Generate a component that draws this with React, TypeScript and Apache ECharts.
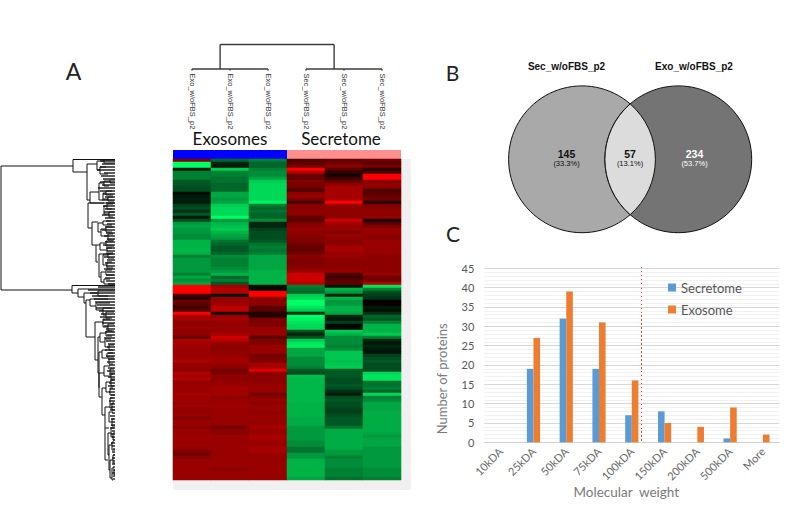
import React, { useEffect, useRef } from "react";
import * as echarts from "echarts";

const heatColumns = ["Exo_w/oFBS_p2", "Exo_w/oFBS_p2", "Exo_w/oFBS_p2", "Sec_w/oFBS_p2", "Sec_w/oFBS_p2", "Sec_w/oFBS_p2"];

const exo1 = [
  5, -10, -10, -1, -5, -5, -5, -3.5, -3.5, -3,
  -3, -0.5, -1, -1.2, -1, -2.5, -3, -2, -3.5, -1,
  -3, -6, -6.5, -6, -6, -5.5, -5.5, -7, -7, -7,
  -7.2, -7, -5, -6, -6, -6, -6, -6, -5, -6.5,
  -5.5, -6.5, 10, 10, 10, 3, 1.5, 4.5, 3.5, 2.5,
  3, 10, 6.5, 6.5, 5.5, 5.8, 6, 5.5, 5.8, 4,
  6.8, 6.3, 6.3, 6, 6.2, 6, 6.4, 6.8, 5.8, 5.8,
  5.5, 7, 6.3, 7, 5.8, 5.8, 6.2, 5.8, 6.5, 6.2,
  6.2, 5.8, 6.2, 5.8, 5.8, 6, 5, 6, 6, 5.5,
  6, 6, 6.2, 6.2, 6, 6, 6, 5, 4.5, 5.5,
  6, 6, 6, 6, 6, 6, 6,
];
const exo2 = [
  -4, -1.5, -0.8, -8, -5, -5, -4.5, -4.5, -4, -4,
  -4, -6.5, -6.5, -6, -6.5, -8, -8.5, -8.5, -8.5, -10,
  -6, -7, -7.5, -8, -7, -6.5, -6, -4.5, -4, -3.5,
  -3.5, -4, -5.5, -5, -5, -5, -5.5, -6, -7, -4,
  -5, -3.5, 6.5, 7, 7, -1, 6, 6, 6.2, 7.5,
  7.5, 1, 6, 6.5, 5.8, 5.8, 6, 5.8, 6.5, 8,
  7.2, 5.8, 5.5, 5.5, 5.8, 5.8, 6.2, 6.4, 6, 5.5,
  4.5, 5, 5.8, 5.5, 5.8, 6, 6.5, 6.2, 6.4, 5.5,
  6, 6.2, 6.2, 6, 6, 6, 6, 6, 6, 4.5,
  5.5, 5.5, 6, 6, 6, 6, 6, 6, 6, 6,
  6, 6, 6, 5.5, 6, 6, 6,
];
const exo3 = [
  -5, -4, -4, -5, -5.5, -5.5, -6.5, -8, -8.5, -8.5,
  -8.5, -8.5, -8.5, -8.5, -9.5, -5, -4, -4.5, -4, -4,
  -5.5, -1.5, -1.5, -2.5, -3, -3, -3, -3.5, -4.5, -5,
  -4.5, -5, -6.5, -6.5, -6.5, -6.5, -6.5, -7, -7, -7,
  -7, -7, -0.5, -0.5, 10, 10, 5.5, 5.5, 5.5, 3.5,
  3.5, 1.5, 1.5, 5, 5, 5, 6, 6, 6, 3.5,
  5, 5, 6, 6, 6, 4.5, 5, 5, 6.5, 6.5,
  9, 5.5, 5.5, 5.5, 5.5, 6, 6, 6, 4.5, 5.5,
  6, 5.5, 6, 6, 5.5, 6, 6, 6, 6, 6.5,
  6, 6, 6.5, 6.5, 6, 6, 6.5, 6.5, 6, 6,
  6, 6, 6, 6, 6, 6, 6,
];
const sec1 = [
  3, 4, 4.5, 10, 7, 4, 4, 5, 5, 4.5,
  3, 5.5, 6, 5, 2.5, 5.5, 5.5, 5.5, 5.5, 4,
  3.5, 5, 5.5, 6, 5.5, 5.5, 5, 5, 4.5, 4,
  4, 4.5, 5.5, 5, 5, 5, 5.5, 6, 8, 8,
  8, 7.5, -5, -4.5, -4, -8, -8.5, -10, -10, -9,
  -8, -2, -10, -9.5, -9, -8.5, -8.5, -3, -1.5, -3,
  -8, -9, -9.5, -6.5, -6.5, -6.5, -5.5, -5.5, -5.5, -5,
  -3.5, -3, -7.5, -7.2, -7.2, -7.2, -7.2, -7.2, -7.2, -7.2,
  -7.2, -7, -7, -7, -7, -7, -6.8, -6.8, -6.8, -6,
  -6, -6, -6, -6, -5.5, -5.5, -4.5, -4.5, -6, -6,
  -7, -7, -7, -7, -7, -7, -6.5,
];
const sec2 = [
  4, 4.5, 5.5, 3.5, 2, 0.8, 2.5, 4, 5.5, 6.5,
  6.5, 6.5, 6.5, 6.5, 10, 6, 5.5, 5.5, 5.5, 5.5,
  8, 6.5, 6, 6, 5, 6, 5.5, 5.5, 5.5, 6.5,
  6.5, 6, 6, 5.5, 5.5, 5.5, 5.5, 6, 3, 2.5,
  3.5, 4, -1, -7, -6, -1.5, -7, -6, -6, -7,
  -7, -6.5, -1.5, -1, -2.5, -0.3, -0.3, -8, -7, -5.5,
  -5.5, -5.5, -5, -5.5, -7.8, -7.8, -7.8, -7.5, -7.8, -8,
  -3.5, -3.5, -3.5, -3, -3, -3.5, -3, -2, -1, -3,
  -3.5, -3, -3, -2.5, -2.5, -3, -3.5, -3.5, -3.5, -4.5,
  -6.8, -6.8, -6.8, -6.8, -6.8, -6.8, -6.8, -6, -6, -5,
  -5.5, -5.5, -5.5, -5, -5, -5, -4.5,
];
const sec3 = [
  4.5, 3.5, 5, 1.5, 3, 10, 10, 5, 6, 5.5,
  3, 3.5, 4, 4.5, 1.5, 5, 5.5, 5.5, 5.5, 6,
  1, 3.5, 5, 6, 6, 5.5, 5.5, 6, 6, 6,
  6, 6, 5.5, 5.5, 5.5, 5.5, 5.5, 5.5, 6, 4.5,
  4.5, 7, -9, -5, -3, -2.5, -2, 0, 0.3, -1,
  -0.5, -2, -4, -3.5, -5, -7, -7, -7, -8, -5,
  -1.5, -1, -1.5, -1, -0.8, -2.5, -3, -3.5, -3, -3,
  -3, -8.5, -9, -9, -4.5, -4.5, -5, -4, -8.5, -5,
  -5.5, -6.5, -6.5, -6.5, -6.8, -6.8, -6.8, -6.8, -6.8, -6.8,
  -6.8, -6.5, -6, -6.5, -6.5, -6.5, -6, -6, -6, -6,
  -6, -6, -6, -5.5, -5.5, -5.5, -5,
];
const heatValues = [exo1, exo2, exo3, sec1, sec2, sec3];

const columnTree = [
  [0, 0, 2, 0],
  [3, 0, 5, 0],
  [0.74, 0, 0.74, 1],
  [3.74, 0, 3.74, 1],
  [0.74, 1, 3.74, 1],
  [0, 0, 0, -0.06],
  [1, 0, 1, -0.06],
  [2, 0, 2, -0.06],
  [3, 0, 3, -0.06],
  [4, 0, 4, -0.06],
  [5, 0, 5, -0.06],
];

// row dendrogram: [height, top row, bottom row, top child height, bottom child height]
const rowBrackets = [
  [1, 166, 290, 73, 72],
  [73, 159.5, 172, 115, 87],
  [87, 164, 200, 97, 90],
  [97, 161, 170, 104, 100],
  [104, 160, 163, 115, 115],
  [100, 167, 174, 106, 108],
  [90, 192, 203, 99, 115],
  [99, 183, 200, 104, 103],
  [104, 181, 186, 110, 109],
  [110, 180, 183, 115, 115],
  [103, 193, 199, 106, 108],
  [106, 191, 195, 112, 113],
  [108, 197, 201, 113, 114],
  [88, 203, 228, 104, 92],
  [104, 206, 214, 107, 109],
  [107, 204, 209, 113, 112],
  [109, 212, 217, 114, 113],
  [92, 222, 245, 98, 96],
  [98, 223, 232, 103, 101],
  [103, 221, 225, 111, 112],
  [101, 229, 236, 106, 108],
  [106, 227, 232, 113, 112],
  [108, 234, 240, 113, 114],
  [96, 245, 262, 100, 98],
  [100, 243, 250, 106, 107],
  [106, 241, 246, 113, 114],
  [107, 248, 254, 112, 113],
  [99, 254, 277, 103, 101],
  [103, 255, 265, 108, 107],
  [108, 253, 258, 113, 114],
  [107, 262, 268, 112, 113],
  [101, 272, 282, 106, 104],
  [106, 270, 275, 112, 114],
  [104, 279, 284, 110, 115],
  [72, 285.5, 293, 115, 78],
  [78, 289, 297, 115, 84],
  [84, 293, 303, 98, 86],
  [98, 291, 296, 115, 108],
  [86, 300, 337, 90, 95],
  [90, 299, 306, 108, 96],
  [96, 303, 310, 110, 103],
  [103, 308, 315, 112, 106],
  [106, 312, 318, 114, 112],
  [95, 322, 360, 103, 98],
  [103, 319, 327, 110, 108],
  [108, 324, 331, 114, 112],
  [98, 337, 373, 100, 99],
  [100, 333, 342, 106, 105],
  [106, 331, 336, 114, 112],
  [105, 339, 347, 111, 109],
  [109, 345, 350, 114, 113],
  [99, 352, 388, 102, 99],
  [102, 350, 358, 107, 109],
  [107, 353, 357, 113, 114],
  [109, 359, 364, 114, 113],
  [99, 373, 397, 104, 102],
  [104, 366, 376, 110, 111],
  [110, 369, 373, 114, 115],
  [111, 374, 379, 113, 115],
  [102, 388, 415, 106, 105],
  [106, 382, 392, 111, 110],
  [111, 380, 386, 114, 114],
  [110, 388, 395, 113, 115],
  [105, 407, 428, 110, 105],
  [110, 398, 408, 113, 112],
  [112, 403, 410, 114, 115],
  [105, 428, 460, 109, 108],
  [109, 412, 422, 113, 112],
  [112, 419, 426, 114, 115],
  [108, 433, 455, 111, 109],
  [111, 428, 437, 114, 113],
  [113, 433, 440, 115, 115],
  [109, 445, 470, 112, 110],
  [112, 442, 450, 114, 115],
  [110, 460, 478, 113, 112],
  [113, 455, 463, 115, 115],
  [112, 468, 480, 114, 113],
  [114, 470, 475, 115, 115],
];
const rowLeafStarts = [
  100, 102, 100, 97, 104, 101, 103, 100, 102, 98,
  100, 103, 105, 102, 106, 103, 105, 104, 102, 105,
  106, 107, 105, 102, 106, 104, 107, 105, 103, 106,
  107, 103, 104, 107, 105, 106, 104, 107, 106, 105,
  106, 108, 98, 88, 90, 92, 94, 95, 97, 96,
  99, 101, 100, 103, 102, 104, 106, 105, 107, 104,
  106, 108, 107, 105, 108, 106, 108, 107, 109, 108,
  107, 109, 108, 110, 109, 108, 110, 109, 111, 110,
  109, 110, 111, 110, 112, 110, 111, 112, 111, 110,
  112, 111, 112, 113, 111, 112, 113, 112, 113, 112,
  113, 112, 113, 113, 112, 113, 113,
];

const mwCategories = ["10kDA", "25kDA", "50kDA", "75kDA", "100kDA", "150kDA", "200kDA", "500kDA", "More"];
const secretome = [0, 19, 32, 19, 7, 8, 0, 1, 0];
const exosome = [0, 27, 39, 31, 16, 5, 4, 9, 2];

const vennSets = ["Sec_w/oFBS_p2", "Exo_w/oFBS_p2"];
const vennCounts = ["145", "57", "234"];
const vennShares = ["(33.3%)", "(13.1%)", "(53.7%)"];

const ARIAL = '"Liberation Sans", Arial, sans-serif';
const CAL = 'Lato, "Noto Sans", sans-serif';

const segmentRenderer = (stroke: string, lineWidth: number) => (_: any, api: any) => {
  const a = api.coord([api.value(0), api.value(1)]);
  const b = api.coord([api.value(2), api.value(3)]);
  return {
    type: "line",
    shape: { x1: a[0], y1: a[1], x2: b[0], y2: b[1] },
    style: { stroke, lineWidth },
    silent: true,
  };
};

export default function App() {
  const ref = useRef<HTMLDivElement>(null);
  useEffect(() => {
    document.body.style.margin = "0";
    const chart = echarts.init(ref.current!, undefined, { renderer: "svg" });
    const lens = echarts.graphic.extendPath(
      "M0,-55.4 A73.4,73.4 0 0 1 0,55.4 A73.4,73.4 0 0 1 0,-55.4 Z",
      {}
    );
    echarts.graphic.registerShape("vennLens", lens);

    const heatData: number[][] = [];
    heatValues.forEach((col, c) => col.forEach((v, r) => heatData.push([c, r, v])));
    const rowCats = exo1.map((_, i) => String(i));

    const rowSegs: number[][] = [];
    rowBrackets.forEach(([x, y0, y1, rt, rb]) => {
      rowSegs.push([x, y0, x, y1], [x, y0, rt, y0], [x, y1, rb, y1]);
    });
    const leafSegs = rowLeafStarts.map((x, i) => [x, 161 + i * 3, 115, 161 + i * 3]);

    const txt = (text: string, x: number, y: number, font: number, extra: any = {}) => ({
      type: "text",
      x,
      y,
      silent: true,
      style: {
        text,
        fontSize: font,
        fontFamily: CAL,
        fill: "#111",
        textAlign: "center",
        textVerticalAlign: "middle",
        ...extra,
      },
    });

    chart.setOption({
      animation: false,
      backgroundColor: "#fff",
      grid: [
        { left: 173, top: 159, width: 228, height: 321 },
        { left: 173, top: 44.5, width: 228, height: 26 },
        { left: 0, top: 159, width: 115, height: 321 },
        { left: 484.3, top: 268.3, width: 295, height: 174 },
      ],
      xAxis: [
        { gridIndex: 0, type: "category", data: heatColumns, show: false },
        {
          gridIndex: 1,
          type: "category",
          data: heatColumns,
          axisLine: { show: false },
          axisTick: { show: false },
          splitLine: { show: false },
          axisLabel: {
            interval: 0,
            rotate: -90,
            margin: 3,
            fontSize: 7.5,
            fontFamily: ARIAL,
            color: "#333",
          },
        },
        { gridIndex: 1, type: "value", min: -0.5, max: 5.5, show: false },
        { gridIndex: 2, type: "value", min: 0, max: 115, show: false },
        {
          gridIndex: 3,
          type: "category",
          data: mwCategories,
          axisLine: { lineStyle: { color: "#d0d0d0" } },
          axisTick: { show: false },
          axisLabel: {
            interval: 0,
            rotate: 45,
            margin: 7,
            padding: [4, 0, 0, 0],
            fontSize: 11,
            fontFamily: CAL,
            color: "#666",
          },
          name: "Molecular  weight",
          nameLocation: "middle",
          nameGap: 38,
          nameTextStyle: {
            fontSize: 13.5,
            fontFamily: CAL,
            color: "#7a7a7a",
            letterSpacing: 1,
            padding: [0, 11, 0, 0],
          },
        },
      ],
      yAxis: [
        { gridIndex: 0, type: "category", data: rowCats, inverse: true, show: false },
        { gridIndex: 1, type: "value", min: -0.06, max: 1, show: false },
        { gridIndex: 2, type: "value", min: 159, max: 480, inverse: true, show: false },
        {
          gridIndex: 3,
          type: "value",
          min: 0,
          max: 45,
          interval: 5,
          minorTick: { show: false, splitNumber: 5 },
          minorSplitLine: { show: true, lineStyle: { color: "#f1f1f1", width: 1 } },
          splitLine: { show: true, lineStyle: { color: "#d8d8d8", width: 1 } },
          axisLine: { show: false },
          axisTick: { show: false },
          axisLabel: {
            margin: 10,
            fontSize: 11,
            fontFamily: CAL,
            color: "#555",
          },
          name: "Number of proteins",
          nameLocation: "middle",
          nameGap: 36,
          nameTextStyle: {
            fontSize: 13,
            fontFamily: CAL,
            color: "#7a7a7a",
            letterSpacing: 0.8,
            padding: [0, 47, 0, 0],
          },
        },
      ],
      visualMap: {
        show: false,
        seriesIndex: 0,
        dimension: 2,
        min: -10,
        max: 10,
        inRange: { color: ["#00ff66", "#000000", "#ff0000"] },
      },
      legend: {
        left: 668,
        top: 281,
        padding: 0,
        orient: "vertical",
        itemWidth: 8,
        itemHeight: 8,
        itemGap: 9,
        icon: "rect",
        data: ["Secretome", "Exosome"],
        textStyle: { fontSize: 13, fontFamily: CAL, color: "#555" },
      },
      series: [
        {
          type: "heatmap",
          xAxisIndex: 0,
          yAxisIndex: 0,
          data: heatData,
          silent: true,
          itemStyle: { borderWidth: 0 },
          emphasis: { disabled: true },
          z: 3,
        },
        {
          type: "custom",
          xAxisIndex: 2,
          yAxisIndex: 1,
          data: columnTree,
          renderItem: segmentRenderer("#3c3c3c", 1.4),
          silent: true,
        },
        {
          type: "custom",
          xAxisIndex: 3,
          yAxisIndex: 2,
          data: leafSegs,
          renderItem: segmentRenderer("#333", 1.6),
          silent: true,
        },
        {
          type: "custom",
          xAxisIndex: 3,
          yAxisIndex: 2,
          data: rowSegs,
          renderItem: segmentRenderer("#111", 1),
          silent: true,
        },
        {
          name: "Secretome",
          type: "bar",
          xAxisIndex: 4,
          yAxisIndex: 3,
          data: secretome,
          barWidth: 6.6,
          barGap: "0%",
          itemStyle: { color: "#5b9bd5" },
          silent: true,
        },
        {
          name: "Exosome",
          type: "bar",
          xAxisIndex: 4,
          yAxisIndex: 3,
          data: exosome,
          barWidth: 6.6,
          barGap: "0%",
          itemStyle: { color: "#ed7d31" },
          silent: true,
        },
      ],
      graphic: [
        { type: "rect", z: -10, silent: true, shape: { x: 173, y: 159, width: 238, height: 331 }, style: { fill: "#f0f0f0" } },
        { type: "rect", silent: true, shape: { x: 173, y: 150, width: 114, height: 9 }, style: { fill: "#0000ff" } },
        { type: "rect", silent: true, shape: { x: 287, y: 150, width: 114, height: 9 }, style: { fill: "#ff8f8f" } },
        txt("A", 73.5, 71, 23, { fill: "#222" }),
        txt("Exosomes", 230, 138, 17),
        txt("Secretome", 341, 138, 17),
        txt("B", 452.5, 72, 21, { fill: "#222" }),
        txt("C", 453, 233, 21, { fill: "#222" }),
        { type: "circle", silent: true, shape: { cx: 582, cy: 159.3, r: 73.4 }, style: { fill: "#a9a9a9", stroke: "#111", lineWidth: 1 } },
        { type: "circle", silent: true, shape: { cx: 678.3, cy: 159.3, r: 73.4 }, style: { fill: "#747474", stroke: "#111", lineWidth: 1 } },
        { type: "vennLens", silent: true, x: 630.15, y: 159.3, style: { fill: "#dcdcdc", stroke: "#111", lineWidth: 1 } },
        txt(vennSets[0], 566.5, 66, 10, { fontFamily: ARIAL, fontWeight: "bold" }),
        txt(vennSets[1], 694, 66, 10, { fontFamily: ARIAL, fontWeight: "bold" }),
        txt(vennCounts[0], 566.5, 154, 10.5, { fontFamily: ARIAL, fontWeight: "bold" }),
        txt(vennShares[0], 566.5, 163, 7.5, { fontFamily: ARIAL }),
        txt(vennCounts[1], 630, 154, 10.5, { fontFamily: ARIAL, fontWeight: "bold" }),
        txt(vennShares[1], 630, 163, 7.5, { fontFamily: ARIAL }),
        txt(vennCounts[2], 694.5, 154, 10.5, { fontFamily: ARIAL, fontWeight: "bold", fill: "#fff" }),
        txt(vennShares[2], 694.5, 163, 7.5, { fontFamily: ARIAL, fill: "#fff" }),
        {
          type: "line",
          silent: true,
          shape: { x1: 641.5, y1: 267, x2: 641.5, y2: 442 },
          style: { stroke: "#e53935", lineWidth: 1, lineDash: [2, 2] },
        },
      ],
    });
    return () => chart.dispose();
  }, []);
  return <div ref={ref} style={{ width: 800, height: 513 }} />;
}
